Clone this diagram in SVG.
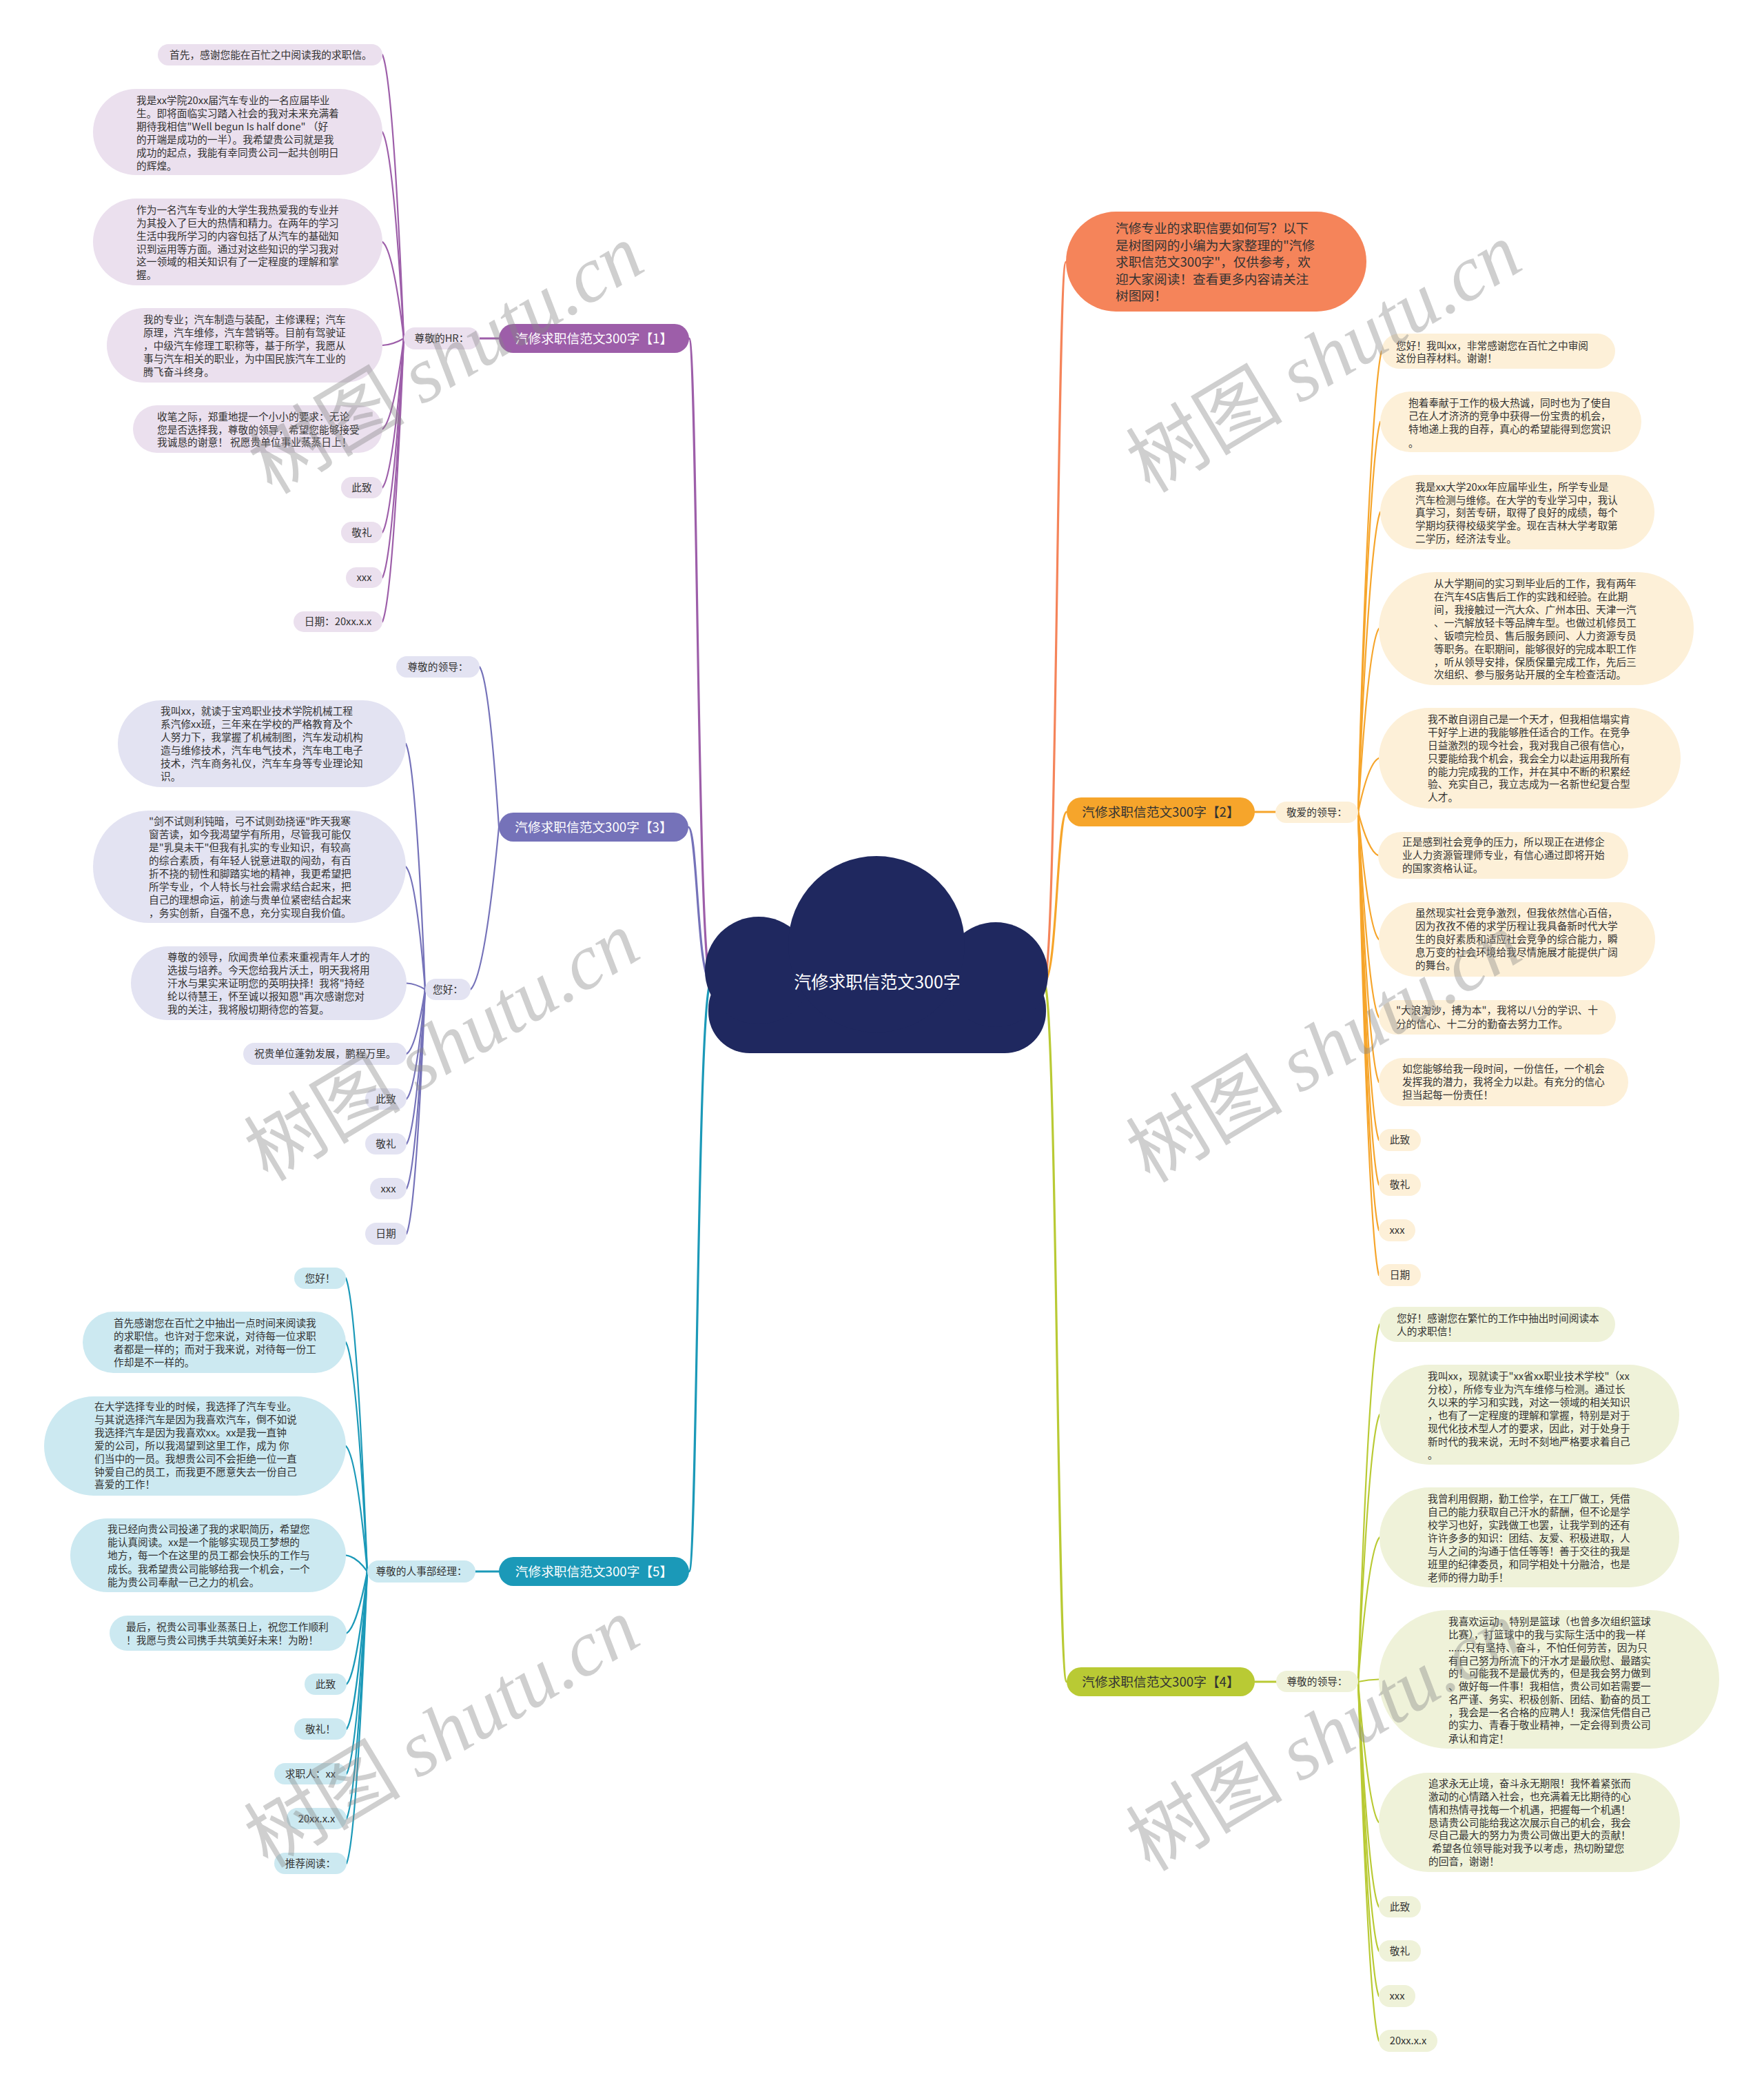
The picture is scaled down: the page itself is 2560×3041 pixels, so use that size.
<svg xmlns="http://www.w3.org/2000/svg" width="2560" height="3041" viewBox="0 0 2560 3041">
<style>
.t{font-family:"Noto Sans CJK SC","Noto Sans",sans-serif;font-size:14.7px;fill:#333}
.m{text-anchor:middle}
.lb{font-size:18.7px}
.w{fill:#fff}
.cn{fill:none;stroke-width:2.2;stroke-linecap:round}
.mb{stroke-width:3.2}
.k1{stroke:#9d5ea9}.k3{stroke:#7572b9}.k5{stroke:#1b99b8}.k2{stroke:#f6a52b}.k4{stroke:#b9ca34}.k0{stroke:#f5845a}
.f1{fill:#ebe0ee}.f3{fill:#e3e3f2}.f5{fill:#cce9f1}.f2{fill:#fdf0d8}.f4{fill:#eff2d9}
.wm{font-family:"Noto Sans CJK SC",sans-serif;font-size:114px;fill:#888;fill-opacity:.4}
.wm2{font-family:"Liberation Serif",serif;font-style:italic}
</style>
<rect width="2560" height="3041" fill="#fff"/>
<g id="connectors">
<path class="cn mb k1" d="M1032,1425 C1012,1425 1012,491 1000,491"/>
<path class="cn mb k3" d="M1032,1425 C1012,1425 1012,1200 999,1200"/>
<path class="cn mb k5" d="M1032,1425 C1012,1425 1012,2280 1000,2280"/>
<path class="cn mb k0" d="M1515,1425 C1534,1425 1534,380 1547,380"/>
<path class="cn mb k2" d="M1515,1425 C1534,1425 1534,1178 1548,1178"/>
<path class="cn mb k4" d="M1515,1425 C1534,1425 1534,2440 1548,2440"/>
<path class="cn mb k1" d="M696,491 L724,491"/>
<path class="cn k1" d="M586,491 C576.7,265 566,104 555,79.5"/>
<path class="cn k1" d="M586,491 C576.7,326 566,209.5 555,191.5"/>
<path class="cn k1" d="M586,491 C576.7,414 566,359 555,351"/>
<path class="cn k1" d="M586,491 C576.7,496.5 566,500.4 555,501"/>
<path class="cn k1" d="M586,491 C576.7,563 566,614.6 555,622.5"/>
<path class="cn k1" d="M586,491 C576.7,610 566,694.5 555,707.5"/>
<path class="cn k1" d="M586,491 C576.7,646 566,755.6 555,772.5"/>
<path class="cn k1" d="M586,491 C576.7,682 566,817 555,838"/>
<path class="cn k1" d="M586,491 C576.7,717 566,877 555,902"/>
<path class="cn k3" d="M724,1200 C715.6,1072 705.8,981.5 696,967.5"/>
<path class="cn k3" d="M724,1200 C711.7,1329.5 697.4,1421.4 683,1435.5"/>
<path class="cn k3" d="M617,1435.5 C608.9,1239.4 599.5,1100.4 589,1079"/>
<path class="cn k3" d="M617,1435.5 C608.9,1337.6 599.5,1268.2 589,1257.5"/>
<path class="cn k3" d="M617,1435.5 C608.9,1430.5 599.5,1427 590,1426.5"/>
<path class="cn k3" d="M617,1435.5 C608.9,1487 599.5,1523.4 590,1529"/>
<path class="cn k3" d="M617,1435.5 C608.9,1523 599.5,1585 590,1594.5"/>
<path class="cn k3" d="M617,1435.5 C608.9,1558.7 599.5,1646 590,1659.5"/>
<path class="cn k3" d="M617,1435.5 C608.9,1594.5 599.5,1707.2 590,1724.5"/>
<path class="cn k3" d="M617,1435.5 C608.9,1630.5 599.5,1768.7 590,1790"/>
<path class="cn mb k5" d="M690,2280 L724,2280"/>
<path class="cn k5" d="M533,2280 C523.7,2046 512.9,1880 502,1854.5"/>
<path class="cn k5" d="M533,2280 C523.7,2097 512.9,1967.4 502,1947.5"/>
<path class="cn k5" d="M533,2280 C523.7,2180 512.9,2109 502,2098"/>
<path class="cn k5" d="M533,2280 C523.7,2267 512.9,2258 502,2256.5"/>
<path class="cn k5" d="M533,2280 C523.7,2329 512.9,2364 503,2369.5"/>
<path class="cn k5" d="M533,2280 C523.7,2370 512.9,2433.7 503,2443.5"/>
<path class="cn k5" d="M533,2280 C523.7,2405.7 512.9,2494.8 503,2508.5"/>
<path class="cn k5" d="M533,2280 C523.7,2441.4 512.9,2555.9 503,2573.5"/>
<path class="cn k5" d="M533,2280 C523.7,2477 512.9,2617 503,2638.5"/>
<path class="cn k5" d="M533,2280 C523.7,2513 512.9,2678 503,2703.5"/>
<path class="cn mb k2" d="M1821,1178 L1851,1178"/>
<path class="cn k2" d="M1971,1178 C1980,810.3 1994.5,549.6 2005,509.5"/>
<path class="cn k2" d="M1971,1178 C1980,866.7 1992.5,646 2003,612"/>
<path class="cn k2" d="M1971,1178 C1980,938.8 1992.5,769 2003,743"/>
<path class="cn k2" d="M1971,1178 C1980,1031.7 1990.5,928 2001,912"/>
<path class="cn k2" d="M1971,1178 C1980,1135 1990.5,1104.7 2001,1100"/>
<path class="cn k2" d="M1971,1178 C1980,1212.7 1990.5,1237.2 2000,1241"/>
<path class="cn k2" d="M1971,1178 C1980,1279.8 1990.5,1352 2001,1363"/>
<path class="cn k2" d="M1971,1178 C1980,1342 1990.5,1458 2001,1476"/>
<path class="cn k2" d="M1971,1178 C1980,1393.6 1990.5,1546.5 2001,1570"/>
<path class="cn k2" d="M1971,1178 C1980,1439.8 1990.5,1625.4 2001,1654"/>
<path class="cn k2" d="M1971,1178 C1980,1475.6 1990.5,1686.5 2001,1719"/>
<path class="cn k2" d="M1971,1178 C1980,1511.9 1990.5,1748.6 2001,1785"/>
<path class="cn k2" d="M1971,1178 C1980,1547.6 1990.5,1809.7 2001,1850"/>
<path class="cn mb k4" d="M1821,2440 L1852,2440"/>
<path class="cn k4" d="M1971,2440 C1980.3,2154.8 1991,1952.6 2002,1921.5"/>
<path class="cn k4" d="M1971,2440 C1980.3,2226.9 1991,2075.8 2002,2052.5"/>
<path class="cn k4" d="M1971,2440 C1980.3,2324.8 1991,2243 2002,2230.5"/>
<path class="cn k4" d="M1971,2440 C1980.3,2438 1990,2436.7 2001,2436.5"/>
<path class="cn k4" d="M1971,2440 C1980.3,2552.2 1990,2631.8 2001,2644"/>
<path class="cn k4" d="M1971,2440 C1980.3,2619.6 1990,2747 2001,2766.5"/>
<path class="cn k4" d="M1971,2440 C1980.3,2654.8 1990,2807 2001,2830.5"/>
<path class="cn k4" d="M1971,2440 C1980.3,2690.8 1990,2868.6 2001,2896"/>
<path class="cn k4" d="M1971,2440 C1980.3,2726.6 1990,2929.7 2001,2961"/>
</g>
<g id="center" fill="#1f285f">
<rect x="1028" y="1404" width="490" height="124" rx="60"/>
<circle cx="1101" cy="1408" r="78"/>
<circle cx="1445" cy="1414" r="76"/>
<circle cx="1272" cy="1370" r="128"/>
<text class="t w m" x="1273" y="1434" style="font-size:25px;fill:#fff">汽修求职信范文300字</text>
</g>
<g id="intro"><rect x="1547" y="307" width="436" height="145" rx="72.5" fill="#f5845a"/><text class="t" style="font-size:18.7px"><tspan x="1619" y="338">汽修专业的求职信要如何写？以下</tspan><tspan x="1619" y="362.5">是树图网的小编为大家整理的"汽修</tspan><tspan x="1619" y="387">求职信范文300字"，仅供参考，欢</tspan><tspan x="1619" y="411.5">迎大家阅读！查看更多内容请关注</tspan><tspan x="1619" y="436">树图网！</tspan></text></g>
<g id="b1"><rect x="724" y="470" width="276" height="42" rx="21" fill="#9d5ea9"/><text class="t lb w m" x="862" y="498">汽修求职信范文300字【1】</text></g>
<g id="b1-s"><rect class="f1" x="586" y="475" width="110" height="32" rx="16"/><text class="t m" x="641" y="496">尊敬的HR：</text></g>
<g id="b1-n1"><rect class="f1" x="229" y="64" width="326" height="31" rx="15.5"/><text class="t" x="246" y="85">首先，感谢您能在百忙之中阅读我的求职信。</text></g>
<g id="b1-n2"><rect class="f1" x="135" y="129" width="420" height="125" rx="62.5"/><text class="t"><tspan x="198" y="151">我是xx学院20xx届汽车专业的一名应届毕业</tspan><tspan x="198" y="170">生。即将面临实习踏入社会的我对未来充满着</tspan><tspan x="198" y="189">期待我相信"Well begun Is half done" （好</tspan><tspan x="198" y="208">的开端是成功的一半）。我希望贵公司就是我</tspan><tspan x="198" y="227">成功的起点，我能有幸同贵公司一起共创明日</tspan><tspan x="198" y="246">的辉煌。</tspan></text></g>
<g id="b1-n3"><rect class="f1" x="135" y="288" width="420" height="126" rx="63"/><text class="t"><tspan x="198" y="310">作为一名汽车专业的大学生我热爱我的专业并</tspan><tspan x="198" y="329">为其投入了巨大的热情和精力。在两年的学习</tspan><tspan x="198" y="348">生活中我所学习的内容包括了从汽车的基础知</tspan><tspan x="198" y="367">识到运用等方面。通过对这些知识的学习我对</tspan><tspan x="198" y="385">这一领域的相关知识有了一定程度的理解和掌</tspan><tspan x="198" y="404">握。</tspan></text></g>
<g id="b1-n4"><rect class="f1" x="155" y="447" width="400" height="108" rx="54"/><text class="t"><tspan x="208" y="469">我的专业；汽车制造与装配，主修课程；汽车</tspan><tspan x="208" y="488">原理，汽车维修，汽车营销等。目前有驾驶证</tspan><tspan x="208" y="507">，中级汽车修理工职称等，基于所学，我愿从</tspan><tspan x="208" y="526">事与汽车相关的职业，为中国民族汽车工业的</tspan><tspan x="208" y="545">腾飞奋斗终身。</tspan></text></g>
<g id="b1-n5"><rect class="f1" x="193" y="588" width="362" height="69" rx="34.5"/><text class="t"><tspan x="228" y="610">收笔之际，郑重地提一个小小的要求：无论</tspan><tspan x="228" y="629">您是否选择我，尊敬的领导，希望您能够接受</tspan><tspan x="228" y="647">我诚恳的谢意！ 祝愿贵单位事业蒸蒸日上！</tspan></text></g>
<g id="b1-n6"><rect class="f1" x="495" y="692" width="60" height="31" rx="15.5"/><text class="t m" x="525" y="713">此致</text></g>
<g id="b1-n7"><rect class="f1" x="495" y="757" width="60" height="31" rx="15.5"/><text class="t m" x="525" y="778">敬礼</text></g>
<g id="b1-n8"><rect class="f1" x="502" y="823" width="53" height="30" rx="15"/><text class="t m" x="528.5" y="843">xxx</text></g>
<g id="b1-n9"><rect class="f1" x="426" y="887" width="129" height="30" rx="15"/><text class="t m" x="490.5" y="907">日期：20xx.x.x</text></g>
<g id="b3"><rect x="724" y="1179" width="275" height="42" rx="21" fill="#7572b9"/><text class="t lb w m" x="861.5" y="1207">汽修求职信范文300字【3】</text></g>
<g id="b3-s1"><rect class="f3" x="575" y="952" width="121" height="31" rx="15.5"/><text class="t m" x="635.5" y="973">尊敬的领导：</text></g>
<g id="b3-s2"><rect class="f3" x="617" y="1420" width="66" height="31" rx="15.5"/><text class="t m" x="650" y="1441">您好：</text></g>
<g id="b3-n1"><rect class="f3" x="171" y="1016" width="418" height="126" rx="63"/><text class="t"><tspan x="233" y="1037">我叫xx，就读于宝鸡职业技术学院机械工程</tspan><tspan x="233" y="1056">系汽修xx班，三年来在学校的严格教育及个</tspan><tspan x="233" y="1075">人努力下，我掌握了机械制图，汽车发动机构</tspan><tspan x="233" y="1094">造与维修技术，汽车电气技术，汽车电工电子</tspan><tspan x="233" y="1113">技术，汽车商务礼仪，汽车车身等专业理论知</tspan><tspan x="233" y="1132">识。</tspan></text></g>
<g id="b3-n2"><rect class="f3" x="135" y="1176" width="454" height="163" rx="81.5"/><text class="t"><tspan x="216" y="1197">"剑不试则利钝暗，弓不试则劲挠诬"昨天我寒</tspan><tspan x="216" y="1216">窗苦读，如今我渴望学有所用，尽管我可能仅</tspan><tspan x="216" y="1235">是"乳臭未干"但我有扎实的专业知识，有较高</tspan><tspan x="216" y="1254">的综合素质，有年轻人锐意进取的闯劲，有百</tspan><tspan x="216" y="1273">折不挠的韧性和脚踏实地的精神，我更希望把</tspan><tspan x="216" y="1292">所学专业，个人特长与社会需求结合起来，把</tspan><tspan x="216" y="1311">自己的理想命运，前途与贵单位紧密结合起来</tspan><tspan x="216" y="1330">，务实创新，自强不息，充分实现自我价值。</tspan></text></g>
<g id="b3-n3"><rect class="f3" x="190" y="1373" width="400" height="107" rx="53.5"/><text class="t"><tspan x="243" y="1394">尊敬的领导，欣闻贵单位素来重视青年人才的</tspan><tspan x="243" y="1413">选拔与培养。今天您给我片沃土，明天我将用</tspan><tspan x="243" y="1432">汗水与果实来证明您的英明抉择！我将"持经</tspan><tspan x="243" y="1451">纶以待慧王，怀至诚以报知恩"再次感谢您对</tspan><tspan x="243" y="1470">我的关注，我将殷切期待您的答复。</tspan></text></g>
<g id="b3-n4"><rect class="f3" x="353" y="1513" width="237" height="32" rx="16"/><text class="t" x="369" y="1534">祝贵单位蓬勃发展，鹏程万里。</text></g>
<g id="b3-n5"><rect class="f3" x="530" y="1579" width="60" height="31" rx="15.5"/><text class="t m" x="560" y="1600">此致</text></g>
<g id="b3-n6"><rect class="f3" x="530" y="1644" width="60" height="31" rx="15.5"/><text class="t m" x="560" y="1665">敬礼</text></g>
<g id="b3-n7"><rect class="f3" x="537" y="1709" width="53" height="31" rx="15.5"/><text class="t m" x="563.5" y="1730">xxx</text></g>
<g id="b3-n8"><rect class="f3" x="530" y="1774" width="60" height="32" rx="16"/><text class="t m" x="560" y="1795">日期</text></g>
<g id="b5"><rect x="724" y="2259" width="276" height="42" rx="21" fill="#1b99b8"/><text class="t lb w m" x="862" y="2287">汽修求职信范文300字【5】</text></g>
<g id="b5-s"><rect class="f5" x="533" y="2264" width="157" height="32" rx="16"/><text class="t m" x="611.5" y="2285">尊敬的人事部经理：</text></g>
<g id="b5-n1"><rect class="f5" x="427" y="1839" width="75" height="31" rx="15.5"/><text class="t m" x="464.5" y="1860">您好！</text></g>
<g id="b5-n2"><rect class="f5" x="120" y="1903" width="382" height="89" rx="44.5"/><text class="t"><tspan x="165" y="1925">首先感谢您在百忙之中抽出一点时间来阅读我</tspan><tspan x="165" y="1944">的求职信。也许对于您来说，对待每一位求职</tspan><tspan x="165" y="1963">者都是一样的；而对于我来说，对待每一份工</tspan><tspan x="165" y="1982">作却是不一样的。</tspan></text></g>
<g id="b5-n3"><rect class="f5" x="64" y="2026" width="438" height="144" rx="72"/><text class="t"><tspan x="137" y="2046">在大学选择专业的时候，我选择了汽车专业。</tspan><tspan x="137" y="2065">与其说选择汽车是因为我喜欢汽车，倒不如说</tspan><tspan x="137" y="2084">我选择汽车是因为我喜欢xx。xx是我一直钟</tspan><tspan x="137" y="2103">爱的公司，所以我渴望到这里工作，成为 你</tspan><tspan x="137" y="2122">们当中的一员。我想贵公司不会拒绝一位一直</tspan><tspan x="137" y="2141">钟爱自己的员工，而我更不愿意失去一份自己</tspan><tspan x="137" y="2159">喜爱的工作！</tspan></text></g>
<g id="b5-n4"><rect class="f5" x="102" y="2203" width="400" height="107" rx="53.5"/><text class="t"><tspan x="156" y="2224">我已经向贵公司投递了我的求职简历，希望您</tspan><tspan x="156" y="2243">能认真阅读。xx是一个能够实现员工梦想的</tspan><tspan x="156" y="2262">地方，每一个在这里的员工都会快乐的工作与</tspan><tspan x="156" y="2282">成长。我希望贵公司能够给我一个机会，一个</tspan><tspan x="156" y="2301">能为贵公司奉献一己之力的机会。</tspan></text></g>
<g id="b5-n5"><rect class="f5" x="159" y="2344" width="344" height="51" rx="25.5"/><text class="t"><tspan x="183" y="2366">最后，祝贵公司事业蒸蒸日上，祝您工作顺利</tspan><tspan x="183" y="2385">！我愿与贵公司携手共筑美好未来！为盼！</tspan></text></g>
<g id="b5-n6"><rect class="f5" x="442" y="2428" width="61" height="31" rx="15.5"/><text class="t m" x="472.5" y="2449">此致</text></g>
<g id="b5-n7"><rect class="f5" x="427" y="2493" width="76" height="31" rx="15.5"/><text class="t m" x="465" y="2514">敬礼！</text></g>
<g id="b5-n8"><rect class="f5" x="398" y="2558" width="105" height="31" rx="15.5"/><text class="t m" x="450.5" y="2579">求职人：xx</text></g>
<g id="b5-n9"><rect class="f5" x="416" y="2623" width="87" height="31" rx="15.5"/><text class="t m" x="459.5" y="2644">20xx.x.x</text></g>
<g id="b5-n10"><rect class="f5" x="398" y="2688" width="105" height="31" rx="15.5"/><text class="t m" x="450.5" y="2709">推荐阅读：</text></g>
<g id="b2"><rect x="1548" y="1157" width="273" height="42" rx="21" fill="#f6a52b"/><text class="t lb m" x="1684.5" y="1185">汽修求职信范文300字【2】</text></g>
<g id="b2-s"><rect class="f2" x="1851" y="1163" width="120" height="31" rx="15.5"/><text class="t m" x="1911" y="1184">敬爱的领导：</text></g>
<g id="b2-n1"><rect class="f2" x="2005" y="484" width="339" height="51" rx="25.5"/><text class="t"><tspan x="2026" y="507">您好！我叫xx，非常感谢您在百忙之中审阅</tspan><tspan x="2026" y="525">这份自荐材料。谢谢！</tspan></text></g>
<g id="b2-n2"><rect class="f2" x="2003" y="568" width="379" height="88" rx="44"/><text class="t"><tspan x="2044" y="590">抱着奉献于工作的极大热诚，同时也为了使自</tspan><tspan x="2044" y="609">己在人才济济的竞争中获得一份宝贵的机会，</tspan><tspan x="2044" y="628">特地递上我的自荐，真心的希望能得到您赏识</tspan><tspan x="2044" y="648">。</tspan></text></g>
<g id="b2-n3"><rect class="f2" x="2003" y="689" width="398" height="108" rx="54"/><text class="t"><tspan x="2054" y="712">我是xx大学20xx年应届毕业生，所学专业是</tspan><tspan x="2054" y="731">汽车检测与维修。在大学的专业学习中，我认</tspan><tspan x="2054" y="749">真学习，刻苦专研，取得了良好的成绩，每个</tspan><tspan x="2054" y="768">学期均获得校级奖学金。现在吉林大学考取第</tspan><tspan x="2054" y="787">二学历，经济法专业。</tspan></text></g>
<g id="b2-n4"><rect class="f2" x="2001" y="830" width="457" height="164" rx="82"/><text class="t"><tspan x="2081" y="852">从大学期间的实习到毕业后的工作，我有两年</tspan><tspan x="2081" y="871">在汽车4S店售后工作的实践和经验。在此期</tspan><tspan x="2081" y="890">间，我接触过一汽大众、广州本田、天津一汽</tspan><tspan x="2081" y="909">、一汽解放轻卡等品牌车型。也做过机修员工</tspan><tspan x="2081" y="928">、钣喷完检员、售后服务顾问、人力资源专员</tspan><tspan x="2081" y="947">等职务。在职期间，能够很好的完成本职工作</tspan><tspan x="2081" y="966">，听从领导安排，保质保量完成工作，先后三</tspan><tspan x="2081" y="984">次组织、参与服务站开展的全车检查活动。</tspan></text></g>
<g id="b2-n5"><rect class="f2" x="2001" y="1027" width="438" height="146" rx="73"/><text class="t"><tspan x="2072" y="1049">我不敢自诩自己是一个天才，但我相信塌实肯</tspan><tspan x="2072" y="1068">干好学上进的我能够胜任适合的工作。在竞争</tspan><tspan x="2072" y="1087">日益激烈的现今社会，我对我自己很有信心，</tspan><tspan x="2072" y="1106">只要能给我个机会，我会全力以赴运用我所有</tspan><tspan x="2072" y="1125">的能力完成我的工作，并在其中不断的积累经</tspan><tspan x="2072" y="1143">验、充实自己，我立志成为一名新世纪复合型</tspan><tspan x="2072" y="1162">人才。</tspan></text></g>
<g id="b2-n6"><rect class="f2" x="2000" y="1207" width="363" height="68" rx="34"/><text class="t"><tspan x="2035" y="1227">正是感到社会竞争的压力，所以现正在进修企</tspan><tspan x="2035" y="1246">业人力资源管理师专业，有信心通过即将开始</tspan><tspan x="2035" y="1265">的国家资格认证。</tspan></text></g>
<g id="b2-n7"><rect class="f2" x="2001" y="1309" width="401" height="108" rx="54"/><text class="t"><tspan x="2054" y="1330">虽然现实社会竞争激烈，但我依然信心百倍，</tspan><tspan x="2054" y="1349">因为孜孜不倦的求学历程让我具备新时代大学</tspan><tspan x="2054" y="1368">生的良好素质和适应社会竞争的综合能力，瞬</tspan><tspan x="2054" y="1387">息万变的社会环境给我尽情施展才能提供广阔</tspan><tspan x="2054" y="1406">的舞台。</tspan></text></g>
<g id="b2-n8"><rect class="f2" x="2001" y="1451" width="344" height="50" rx="25"/><text class="t"><tspan x="2026" y="1471">"大浪淘沙，搏为本"，我将以八分的学识、十</tspan><tspan x="2026" y="1491">分的信心、十二分的勤奋去努力工作。</tspan></text></g>
<g id="b2-n9"><rect class="f2" x="2001" y="1535" width="362" height="70" rx="35"/><text class="t"><tspan x="2035" y="1556">如您能够给我一段时间，一份信任，一个机会</tspan><tspan x="2035" y="1575">发挥我的潜力，我将全力以赴。有充分的信心</tspan><tspan x="2035" y="1594">担当起每一份责任！</tspan></text></g>
<g id="b2-n10"><rect class="f2" x="2001" y="1638" width="61" height="32" rx="16"/><text class="t m" x="2031.5" y="1659">此致</text></g>
<g id="b2-n11"><rect class="f2" x="2001" y="1703" width="61" height="32" rx="16"/><text class="t m" x="2031.5" y="1724">敬礼</text></g>
<g id="b2-n12"><rect class="f2" x="2001" y="1769" width="53" height="32" rx="16"/><text class="t m" x="2027.5" y="1790">xxx</text></g>
<g id="b2-n13"><rect class="f2" x="2001" y="1834" width="61" height="32" rx="16"/><text class="t m" x="2031.5" y="1855">日期</text></g>
<g id="b4"><rect x="1548" y="2419" width="273" height="42" rx="21" fill="#b9ca34"/><text class="t lb m" x="1684.5" y="2447">汽修求职信范文300字【4】</text></g>
<g id="b4-s"><rect class="f4" x="1852" y="2424" width="119" height="31" rx="15.5"/><text class="t m" x="1911.5" y="2445">尊敬的领导：</text></g>
<g id="b4-n1"><rect class="f4" x="2002" y="1896" width="342" height="51" rx="25.5"/><text class="t"><tspan x="2027" y="1918">您好！感谢您在繁忙的工作中抽出时间阅读本</tspan><tspan x="2027" y="1937">人的求职信！</tspan></text></g>
<g id="b4-n2"><rect class="f4" x="2002" y="1980" width="435" height="145" rx="72.5"/><text class="t"><tspan x="2072" y="2002">我叫xx，现就读于"xx省xx职业技术学校"（xx</tspan><tspan x="2072" y="2021">分校），所修专业为汽车维修与检测。通过长</tspan><tspan x="2072" y="2040">久以来的学习和实践，对这一领域的相关知识</tspan><tspan x="2072" y="2059">，也有了一定程度的理解和掌握，特别是对于</tspan><tspan x="2072" y="2078">现代化技术型人才的要求，因此，对于处身于</tspan><tspan x="2072" y="2097">新时代的我来说，无时不刻地严格要求着自己</tspan><tspan x="2072" y="2116">。</tspan></text></g>
<g id="b4-n3"><rect class="f4" x="2002" y="2158" width="435" height="145" rx="72.5"/><text class="t"><tspan x="2072" y="2180">我曾利用假期，勤工俭学，在工厂做工，凭借</tspan><tspan x="2072" y="2199">自己的能力获取自己汗水的薪酬，但不论是学</tspan><tspan x="2072" y="2218">校学习也好，实践做工也罢，让我学到的还有</tspan><tspan x="2072" y="2237">许许多多的知识：团结、友爱、积极进取，人</tspan><tspan x="2072" y="2256">与人之间的沟通于信任等等！善于交往的我是</tspan><tspan x="2072" y="2275">班里的纪律委员，和同学相处十分融洽，也是</tspan><tspan x="2072" y="2294">老师的得力助手！</tspan></text></g>
<g id="b4-n4"><rect class="f4" x="2001" y="2336" width="494" height="201" rx="100.5"/><text class="t"><tspan x="2102" y="2358">我喜欢运动，特别是篮球（也曾多次组织篮球</tspan><tspan x="2102" y="2377">比赛），打篮球中的我与实际生活中的我一样</tspan><tspan x="2102" y="2396">......只有坚持、奋斗，不怕任何劳苦，因为只</tspan><tspan x="2102" y="2415">有自己努力所流下的汗水才是最欣慰、最踏实</tspan><tspan x="2102" y="2433">的！可能我不是最优秀的，但是我会努力做到</tspan><tspan x="2102" y="2452">、做好每一件事！我相信，贵公司如若需要一</tspan><tspan x="2102" y="2471">名严谨、务实、积极创新、团结、勤奋的员工</tspan><tspan x="2102" y="2490">，我会是一名合格的应聘人！我深信凭借自己</tspan><tspan x="2102" y="2508">的实力、青春于敬业精神，一定会得到贵公司</tspan><tspan x="2102" y="2528">承认和肯定！</tspan></text></g>
<g id="b4-n5"><rect class="f4" x="2001" y="2572" width="437" height="144" rx="72"/><text class="t"><tspan x="2073" y="2593">追求永无止境，奋斗永无期限！我怀着紧张而</tspan><tspan x="2073" y="2612">激动的心情踏入社会，也充满着无比期待的心</tspan><tspan x="2073" y="2631">情和热情寻找每一个机遇，把握每一个机遇！</tspan><tspan x="2073" y="2650">恳请贵公司能给我这次展示自己的机会，我会</tspan><tspan x="2073" y="2668">尽自己最大的努力为贵公司做出更大的贡献！</tspan><tspan x="2078" y="2687">希望各位领导能对我予以考虑，热切盼望您</tspan><tspan x="2073" y="2706">的回音，谢谢！</tspan></text></g>
<g id="b4-n6"><rect class="f4" x="2001" y="2751" width="61" height="31" rx="15.5"/><text class="t m" x="2031.5" y="2772">此致</text></g>
<g id="b4-n7"><rect class="f4" x="2001" y="2815" width="61" height="31" rx="15.5"/><text class="t m" x="2031.5" y="2836">敬礼</text></g>
<g id="b4-n8"><rect class="f4" x="2001" y="2880" width="53" height="32" rx="16"/><text class="t m" x="2027.5" y="2901">xxx</text></g>
<g id="b4-n9"><rect class="f4" x="2001" y="2945" width="85" height="32" rx="16"/><text class="t m" x="2043.5" y="2966">20xx.x.x</text></g>
<g id="watermarks">
<text class="wm" text-anchor="middle" transform="translate(648,522) rotate(-31)" y="38">树图 <tspan class="wm2">shutu.cn</tspan></text>
<text class="wm" text-anchor="middle" transform="translate(1922,520) rotate(-31)" y="38">树图 <tspan class="wm2">shutu.cn</tspan></text>
<text class="wm" text-anchor="middle" transform="translate(642,1519) rotate(-31)" y="38">树图 <tspan class="wm2">shutu.cn</tspan></text>
<text class="wm" text-anchor="middle" transform="translate(1922,1521) rotate(-31)" y="38">树图 <tspan class="wm2">shutu.cn</tspan></text>
<text class="wm" text-anchor="middle" transform="translate(642,2515) rotate(-31)" y="38">树图 <tspan class="wm2">shutu.cn</tspan></text>
<text class="wm" text-anchor="middle" transform="translate(1922,2520) rotate(-31)" y="38">树图 <tspan class="wm2">shutu.cn</tspan></text>
</g>
</svg>
